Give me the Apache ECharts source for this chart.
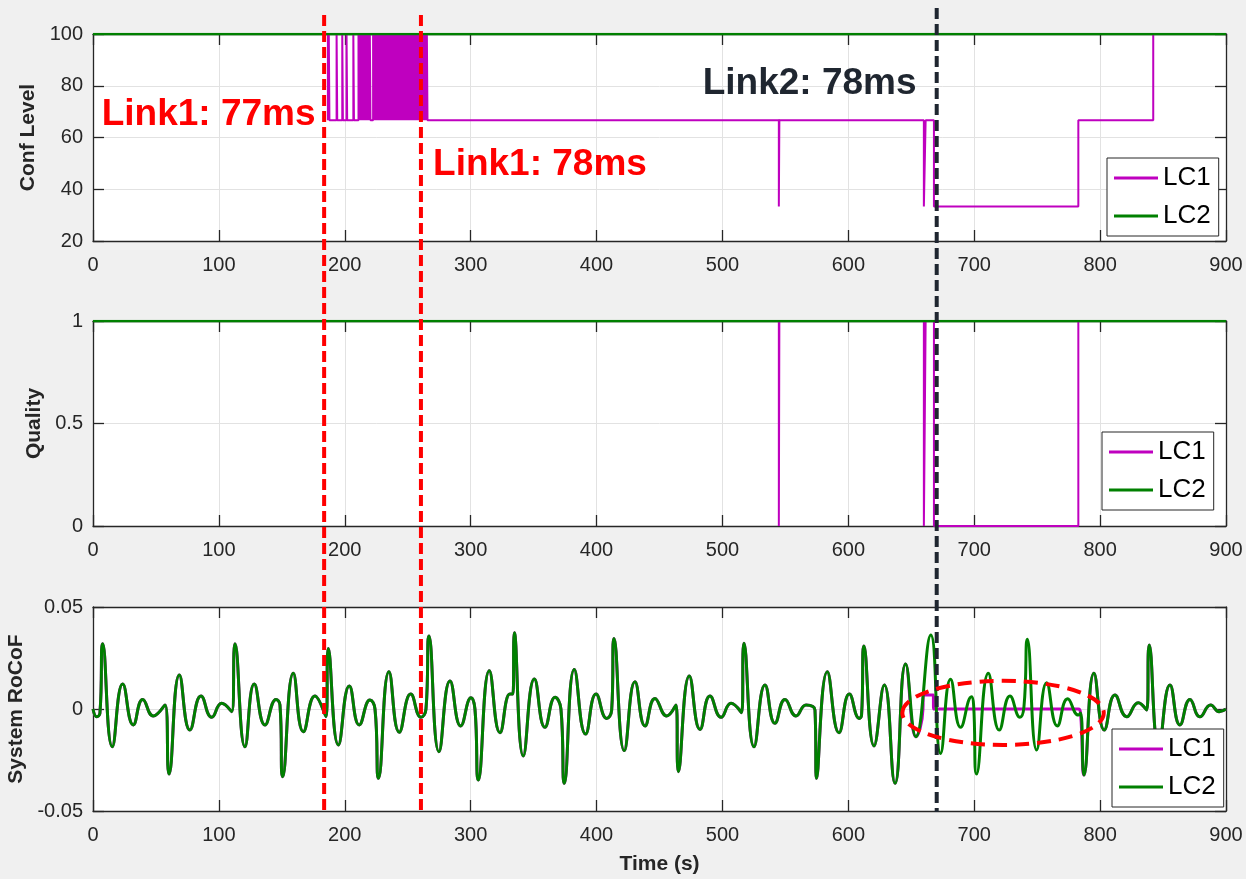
<!DOCTYPE html>
<html>
<head>
<meta charset="utf-8">
<script src="https://cdn.jsdelivr.net/npm/echarts@6/dist/echarts.min.js"></script>
<style>html,body{margin:0;padding:0;background:#f0f0f0}#c{width:1246px;height:879px}</style>
</head>
<body>
<div id="c"></div>
<script>
// ---------------- DATA ----------------
const timeRange = [0, 900];
const timeTickStep = 100;
const confTicks = [20, 100, 20];      // min, max, step
const qualityTicks = [0, 1, 0.5];
const rocofTicks = [-0.05, 0.05, 0.05];

// Conf Level, LC1: value changes [time, new level]
const confLC1Levels = [[0,100],[186.6,66.67],[266,66.67],[544.8,33.33],[545.2,66.67],[660,33.33],[661.4,66.67],[668,33.33],[782.7,66.67],[842.2,100]];
// Conf Level, LC1: short returns to 100 during link-1 switching
const confLC1Pulses = [187.3,193.5,198.0,201.4,206.8,
  210.9,211.9,212.9,213.9,214.9,215.9,216.9,217.9,218.9,219.9,
  222.5,223.5,224.5,225.5,226.5,227.5,228.5,229.5,230.5,231.5,232.5,233.5,234.5,235.5,236.5,237.5,238.5,239.5,240.5,241.5,242.5,243.5,244.5,245.5,246.5,247.5,248.5,249.5,250.5,251.5,252.5,253.5,254.5,255.5,256.5,257.5,258.5,259.5,260.5,261.5,262.5,263.5,264.5,265.2];
const confPulseDuration = 0.5;
const confLC2Levels = [[0,100]];

// Quality
const qualityLC1Levels = [[0,1],[544.8,0],[545.2,1],[660,0],[661.4,1],[668,0],[782.7,1]];
const qualityLC2Levels = [[0,1]];

// System RoCoF, LC2 (extrema)
const rocofLC2 = [[0,0],[3,-0.0038],[5.5,-0.002],[7.7,0.032],[15.3,-0.0185],[23.6,0.0122],[32,-0.0078],[39.5,0.0047],[47.9,-0.0034],[57.2,0.002],[60.4,-0.0319],[68.6,0.0167],[77,-0.0103],[85.8,0.0064],[94.3,-0.0041],[102.2,0.0028],[110.2,-0.0013],[112.8,0.032],[120.7,-0.0185],[128.1,0.0122],[136.6,-0.0078],[145.4,0.0047],[148.5,0.002],[150.7,-0.0332],[159.1,0.0175],[167.1,-0.0111],[176.3,0.0064],[185.1,-0.0038],[186.9,0.0297],[194.9,-0.0176],[203.6,0.0113],[211.5,-0.0078],[220,0.0044],[224,0.0],[226.8,-0.034],[235.1,0.0183],[243.3,-0.0114],[252.4,0.0073],[260.5,-0.0041],[264.5,0.0],[266.9,0.0358],[274.8,-0.0209],[283.6,0.0137],[292.1,-0.0083],[300.3,0.0055],[303.4,0.0],[306.1,-0.0348],[314.8,0.0188],[323.3,-0.0116],[331.2,0.0073],[333.5,0.0073],[334.7,0.0374],[341.8,-0.023],[350.6,0.0147],[359,-0.009],[367,0.0057],[371.7,0.0],[374.4,-0.0364],[382.3,0.0194],[391.3,-0.0123],[399.6,0.0073],[408,-0.0046],[412,-0.0006],[413.9,0.0346],[422,-0.0204],[430.5,0.0133],[438.5,-0.0083],[446.4,0.0052],[455.7,-0.0034],[463.1,0.002],[465,-0.0307],[473.7,0.0162],[482.2,-0.01],[490.1,0.0064],[498.9,-0.0041],[506.8,0.0028],[515.2,-0.0018],[517.1,0.0322],[525.1,-0.0185],[533.8,0.0118],[541.7,-0.007],[549.7,0.0047],[558.4,-0.0034],[566.4,0.002],[573.5,-0.0005],[574.8,-0.034],[583.3,0.0183],[592.6,-0.0116],[600.8,0.0073],[608.7,-0.0046],[610.5,-0.003],[612.4,0.0309],[620.4,-0.0181],[628.6,0.0118],[637.1,-0.0364],[645.5,0.022],[653.7,-0.0136],[665.5,0.0363],[673.3,-0.0218],[681.2,0.0146],[689.2,-0.009],[697.9,0.006],[699.5,0.002],[701.9,-0.0319],[711.2,0.0175],[719.9,-0.0103],[728.4,0.0064],[736.3,-0.0041],[739.5,0.001],[742.2,0.0342],[749.6,-0.0201],[757.5,0.0129],[766,-0.0083],[774.2,0.005],[782.7,-0.003],[784.5,-0.002],[787.2,-0.0324],[795.1,0.0175],[803.3,-0.0103],[811.8,0.0069],[821.1,-0.0038],[830.3,0.0031],[837,-0.0005],[839,0.0314],[846.6,-0.0186],[855.5,0.0118],[863.4,-0.0078],[871.4,0.0047],[879.3,-0.0038],[887.8,0.002],[894.6,-0.0013],[900,0]];
// System RoCoF, LC1 differs from LC2 only between these times
const rocofLC1Window = [[659.3,0.0],[659.5,0.0069],[667.5,0.0069],[667.7,0.0],[782.7,0.0],[784.5,-0.0025]];
const rocofLC1WindowSpan = [654, 787];

// Annotations
const linkMarkers = [{t:183.6, color:'#ff0000'},{t:260.5, color:'#ff0000'},{t:670.2, color:'#1f2630'}];
const linkLabels = [
  {text:'Link1: 77ms', t:6.9, v:68.6, color:'#ff0000'},
  {text:'Link1: 78ms', t:270.1, v:49.5, color:'#ff0000'},
  {text:'Link2: 78ms', t:484.3, v:80.7, color:'#1f2630'}
];
const highlightEllipse = {t:722.9, v:-0.0019, dt:80, dv:0.0157};

const seriesNames = ['LC1','LC2'];
const seriesColors = ['#bf00bf','#008000'];
const yNames = ['Conf Level','Quality','System RoCoF'];
const xName = 'Time (s)';

// ---------------- BUILD ----------------
function stepData(changes){
  const ch = changes.slice().sort((a,b)=>a[0]-b[0]);
  const out = [];
  let cur = null;
  ch.forEach(([t,v])=>{
    if(cur===null){ out.push([t,v]); }
    else { out.push([t,cur]); out.push([t,v]); }
    cur = v;
  });
  out.push([timeRange[1],cur]);
  return out;
}
const confLC1Changes = confLC1Levels.slice();
confLC1Pulses.forEach(t=>{ confLC1Changes.push([t,100]); confLC1Changes.push([t+confPulseDuration,66.67]); });

const rocofLC1 = rocofLC2.filter(p=>p[0]<=rocofLC1WindowSpan[0])
  .concat(rocofLC1Window)
  .concat(rocofLC2.filter(p=>p[0]>=rocofLC1WindowSpan[1]));

const FONT = 'Liberation Sans';
const AX = '#262626';
const grids = [
  {left:93, top:34, width:1133, height:207},
  {left:93, top:321, width:1133, height:205},
  {left:93, top:607, width:1133, height:204}
];
const yRanges = [confTicks, qualityTicks, rocofTicks];
const yNameGaps = [50, 47, 62];

const xAxes = [], yAxes = [];
for(let g=0; g<3; g++){
  const lineStyle = {color:AX, width:1.3};
  xAxes.push({type:'value', gridIndex:g, min:timeRange[0], max:timeRange[1], interval:timeTickStep, position:'bottom',
    axisLine:{show:true,onZero:false,lineStyle},
    axisTick:{show:true,inside:true,length:11,lineStyle},
    axisLabel:{show:true,fontSize:20,color:AX,fontFamily:FONT,margin:14},
    splitLine:{show:true,lineStyle:{color:'#e2e2e2',width:1}},
    name: g===2 ? xName : '', nameLocation:'middle', nameGap:43,
    nameTextStyle:{fontSize:21,fontWeight:'bold',color:AX,fontFamily:FONT}});
  xAxes.push({type:'value', gridIndex:g, min:timeRange[0], max:timeRange[1], interval:timeTickStep, position:'top',
    axisLine:{show:true,onZero:false,lineStyle},
    axisTick:{show:true,inside:true,length:11,lineStyle},
    axisLabel:{show:false}, splitLine:{show:false}});
  const [mn,mx,st] = yRanges[g];
  yAxes.push({type:'value', gridIndex:g, min:mn, max:mx, interval:st, position:'left',
    axisLine:{show:true,onZero:false,lineStyle},
    axisTick:{show:true,inside:true,length:11,lineStyle},
    axisLabel:{show:true,fontSize:20,color:AX,fontFamily:FONT,margin:10},
    splitLine:{show:true,lineStyle:{color:'#e2e2e2',width:1}},
    name:yNames[g], nameLocation:'middle', nameRotate:90, nameGap:yNameGaps[g],
    nameTextStyle:{fontSize:21,fontWeight:'bold',color:AX,fontFamily:FONT}});
  yAxes.push({type:'value', gridIndex:g, min:mn, max:mx, interval:st, position:'right',
    axisLine:{show:true,onZero:false,lineStyle},
    axisTick:{show:true,inside:true,length:11,lineStyle},
    axisLabel:{show:false}, splitLine:{show:false}});
}

function line(name, g, data, width, smooth){
  const c = seriesColors[seriesNames.indexOf(name)];
  return {type:'line', name, xAxisIndex:2*g, yAxisIndex:2*g, data, showSymbol:false, symbol:'none',
    smooth: smooth||false, color:c, lineStyle:{color:c, width}, animation:false, clip:true};
}
const series = [
  line('LC1',0,stepData(confLC1Changes),2),
  line('LC2',0,stepData(confLC2Levels),2.5),
  line('LC1',1,stepData(qualityLC1Levels),2),
  line('LC2',1,stepData(qualityLC2Levels),2.5),
  line('LC1',2,rocofLC1,3,0.5),
  line('LC2',2,rocofLC2,3,0.5)
];

const legendPos = [{left:1107, top:158},{left:1102, top:432},{left:1112, top:729}];
const legends = legendPos.map(p=>({
  left:p.left, top:p.top, orient:'vertical', data:seriesNames.map(n=>({name:n, icon:'rect'})),
  itemWidth:44, itemHeight:3, itemGap:12, padding:[7,8,7,7],
  backgroundColor:'#ffffff', borderColor:'#262626', borderWidth:1, borderRadius:0,
  textStyle:{fontSize:26, color:'#000', fontFamily:FONT}, selectedMode:false
}));

const chart = echarts.init(document.getElementById('c'));
chart.setOption({
  backgroundColor:'#f0f0f0',
  animation:false,
  grid: grids.map(g=>Object.assign({containLabel:false, outerBoundsMode:'none', show:true, backgroundColor:'#ffffff', borderWidth:0}, g)),
  xAxis: xAxes, yAxis: yAxes, series, legend: legends
});

// ---------------- ANNOTATIONS ----------------
const px = (g, t, v) => chart.convertToPixel({xAxisIndex:2*g, yAxisIndex:2*g}, [t, v]);
const graphics = [];
linkMarkers.forEach(m=>{
  const bottom = px(2, m.t, rocofTicks[0])[1] + 1;
  const topY = m.color === '#ff0000' ? px(0, m.t, confTicks[1])[1] - 19 : px(0, m.t, confTicks[1])[1] - 26;
  const x = px(0, m.t, confTicks[1])[0];
  graphics.push({type:'line', z:100, shape:{x1:x, y1:topY, x2:x, y2:bottom},
    style:{stroke:m.color, lineWidth:4, lineDash:[11,5]}});
});
linkLabels.forEach(l=>{
  const [x,y] = px(0, l.t, l.v);
  graphics.push({type:'text', z:101, x, y, style:{text:l.text, fill:l.color,
    font:'bold 37px "Liberation Sans"', align:'left', verticalAlign:'middle'}});
});
{
  const e = highlightEllipse;
  const [cx, cy] = px(2, e.t, e.v);
  const rx = px(2, e.t + e.dt, e.v)[0] - cx;
  const ry = cy - px(2, e.t, e.v + e.dv)[1];
  graphics.push({type:'ellipse', z:100, shape:{cx, cy, rx, ry},
    style:{fill:null, stroke:'#ff0000', lineWidth:4, lineDash:[14,8]}});
}
chart.setOption({graphic: graphics});
</script>
</body>
</html>
